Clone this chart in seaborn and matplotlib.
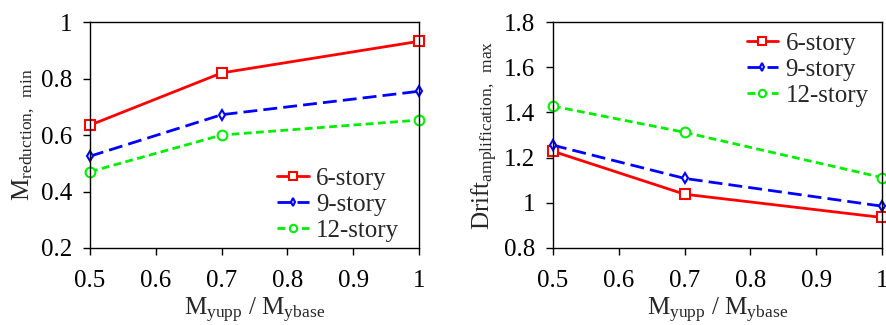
import matplotlib
matplotlib.use('Agg')
import matplotlib.pyplot as plt
import seaborn as sns
import pandas as pd

# 数据
ratio = [0.5, 0.7, 1.0]
stories = ['6-story', '9-story', '12-story']
m_red_6 = [0.635, 0.820, 0.932]
m_red_9 = [0.525, 0.672, 0.755]
m_red_12 = [0.470, 0.600, 0.653]
drift_6 = [1.228, 1.038, 0.935]
drift_9 = [1.255, 1.108, 0.985]
drift_12 = [1.428, 1.312, 1.112]

sns.set_style('ticks')
plt.rcParams['font.family'] = ['Liberation Serif', 'DejaVu Serif']
plt.rcParams['mathtext.fontset'] = 'custom'
plt.rcParams['mathtext.rm'] = 'Liberation Serif'
plt.rcParams['mathtext.it'] = 'Liberation Serif:italic'

colors = {'6-story': '#ff0000', '9-story': '#0000ff', '12-story': '#00ee00'}
markers = {'6-story': 's', '9-story': 'd', '12-story': 'o'}
dashes = {'6-story': '', '9-story': (5, 2.2), '12-story': (2.8, 1.6)}
msize = {'6-story': 7, '9-story': 5.5, '12-story': 7}
FS = 18


def build_df(s6, s9, s12):
    rows = []
    for name, vals in zip(stories, [s6, s9, s12]):
        for x, v in zip(ratio, vals):
            rows.append({'ratio': x, 'value': v, 'story': name})
    return pd.DataFrame(rows)


def draw(ax, df, ylim, yticks, ylabel, legend_loc, legend_anchor):
    for name in stories:
        sub = df[df['story'] == name]
        sns.lineplot(data=sub, x='ratio', y='value', ax=ax, color=colors[name],
                     marker=markers[name], markersize=msize[name],
                     markerfacecolor='white', markeredgecolor=colors[name],
                     markeredgewidth=1.5, linewidth=2, label=name,
                     dashes=False)
        line = ax.lines[-1]
        if dashes[name]:
            line.set_dashes(dashes[name])
    ax.set_xlim(0.5, 1.0)
    ax.set_ylim(*ylim)
    ax.set_xticks([0.5, 0.6, 0.7, 0.8, 0.9, 1.0])
    ax.set_xticklabels(['0.5', '0.6', '0.7', '0.8', '0.9', '1'])
    ax.set_yticks(yticks)
    ax.set_yticklabels([('%g' % t) for t in yticks])
    ax.tick_params(direction='out', length=5, width=1, labelsize=FS, colors='black', pad=8)
    ax.tick_params(axis='x', pad=11)
    for sp in ax.spines.values():
        sp.set_visible(True)
        sp.set_color('black')
        sp.set_linewidth(1)
    ax.set_xlabel(r'M$_{\mathrm{yupp}}$ / M$_{\mathrm{ybase}}$', fontsize=FS, labelpad=3)
    ax.set_ylabel(ylabel, fontsize=FS, labelpad=3)
    leg = ax.legend(loc=legend_loc, bbox_to_anchor=legend_anchor, frameon=False,
                    fontsize=FS, handlelength=1.25, handletextpad=0.3,
                    labelspacing=0.15, borderaxespad=0.0, markerscale=0.75)
    for h in leg.get_lines():
        h.set_linewidth(2)


fig, axes = plt.subplots(1, 2, figsize=(8.87, 3.25), dpi=100)

df1 = build_df(m_red_6, m_red_9, m_red_12)
draw(axes[0], df1, (0.2, 1.0), [0.2, 0.4, 0.6, 0.8, 1.0],
     r'M$_{\mathrm{reduction,\ \ min}}$', 'lower right', (0.97, -0.018))

df2 = build_df(drift_6, drift_9, drift_12)
draw(axes[1], df2, (0.8, 1.8), [0.8, 1.0, 1.2, 1.4, 1.6, 1.8],
     r'Drift$_{\mathrm{amplification,\ \ max}}$', 'upper right', (0.99, 1.0))

for ax in axes:
    for ln in ax.lines:
        ln.set_clip_on(False)

plt.subplots_adjust(left=0.1015, right=0.9944, top=0.932, bottom=0.237, wspace=0.407)
plt.savefig('out.png', dpi=100)
plt.close()
